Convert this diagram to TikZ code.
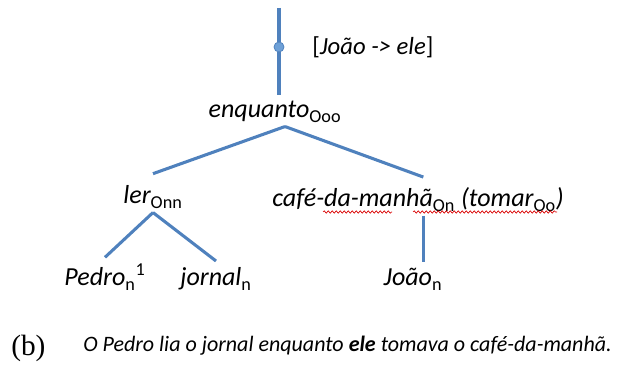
\documentclass[tikz,border=0pt]{standalone}
\usepackage{fontspec}
\setmainfont{Carlito}
\newfontfamily\capfont{Liberation Serif}
\usetikzlibrary{decorations.pathmorphing}
\definecolor{treeblue}{RGB}{79,129,189}
\definecolor{dotblue}{RGB}{110,160,215}
\newcommand{\idx}[1]{\textsubscript{\upshape #1}}

\begin{document}
\begin{tikzpicture}[x=0.75pt,y=-0.75pt]
	\tikzstyle{every node}=[inner sep=3pt, align=center, font=\fontsize{19.5}{24}\selectfont\itshape]
	\tikzstyle{branch}=[draw=treeblue, line width=2.3pt]
	\tikzstyle{squiggle}=[draw=red!85!black, line width=0.5pt, decorate, decoration={snake, amplitude=0.9pt, segment length=3pt}]
	\useasboundingbox (0,0) rectangle (618,373);
	\coordinate (top) at (279,8);
	\node[circle, fill=dotblue, draw=treeblue, line width=0.6pt, inner sep=0pt, minimum size=7.5pt] (pt) at (279,47) {};
	\node[anchor=west, font=\fontsize{18.5}{24}\selectfont\upshape] (mv) at (308,47) {[\textit{João -> ele}]};
	\node[anchor=base] (enq) at (275,118) {enquanto\idx{Ooo}};
	\node[anchor=base] (ler) at (153,204) {ler\idx{Onn}};
	\node[anchor=base] (caf) at (418,207) {café-da-manhã\idx{On} (tomar\idx{Oo})};
	\node[anchor=base] (ped) at (105,286) {Pedro\idx{n}\textsuperscript{\upshape 1}};
	\node[anchor=base] (jor) at (216,286) {jornal\idx{n}};
	\node[anchor=base] (joa) at (413,286) {João\idx{n}};
	\draw [branch] (top) -- (pt) -- ([yshift=2pt]pt |- enq.north);
	\draw [branch] ([xshift=7.5pt]enq.south) -- ([yshift=6pt]ler.north);
	\draw [branch] ([xshift=7.5pt]enq.south) -- ([xshift=4pt,yshift=5pt]caf.north);
	\draw [branch] (ler.south) -- ([yshift=2pt]ped.north);
	\draw [branch] (ler.south) -- ([yshift=2pt]jor.north);
	\draw [branch] ([xshift=4pt]caf.south) -- ([xshift=4pt,yshift=2pt]caf.south |- joa.north);
	\draw [squiggle] (323,212) -- (392,212);
	\draw [squiggle] (413,212) -- (557,212);
	\node[anchor=base west, font=\fontsize{22}{24}\selectfont\capfont] (lbl) at (7,356) {(b)};
	\node[anchor=base west, font=\fontsize{16.5}{18}\selectfont\itshape] (sen) at (79,352) {O Pedro lia o jornal enquanto \textbf{ele} tomava o café-da-manhã.};
\end{tikzpicture}
\end{document}
